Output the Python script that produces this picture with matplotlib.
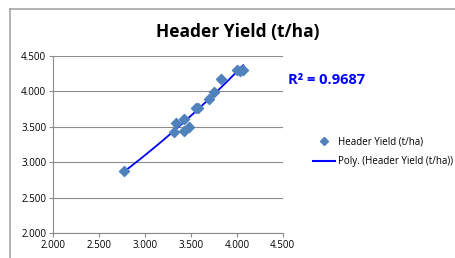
import matplotlib
matplotlib.use('Agg')
import matplotlib.pyplot as plt
import numpy as np
from matplotlib.lines import Line2D

# data
x = [2.77, 3.315, 3.334, 3.424, 3.428, 3.483, 3.555, 3.58, 3.697, 3.751, 3.824, 4.005, 4.03, 4.07]
y = [2.88, 3.42, 3.548, 3.609, 3.444, 3.50, 3.768, 3.76, 3.89, 3.993, 4.168, 4.30, 4.29, 4.30]
r2_text = 'R² = 0.9687'
series_name = 'Header Yield (t/ha)'
xticks = [2.0, 2.5, 3.0, 3.5, 4.0, 4.5]
yticks = [2.0, 2.5, 3.0, 3.5, 4.0, 4.5]

plt.rcParams['font.family'] = ['Open Sans', 'DejaVu Sans']

W, H = 456, 258
fig = plt.figure(figsize=(W / 100, H / 100), dpi=100)
# chart frame (only top and left edges are inside the picture)
fig.lines.append(Line2D([10 / W, 1], [1 - 8.5 / H] * 2, transform=fig.transFigure,
                        color='#a6a6a6', lw=1.2))
fig.lines.append(Line2D([10 / W] * 2, [0, 1 - 8.5 / H], transform=fig.transFigure,
                        color='#a6a6a6', lw=1.2))

ax = fig.add_axes([53.3 / W, 1 - 233.3 / H, (282.7 - 53.3) / W, (233.3 - 55.7) / H])

# 2nd order polynomial trendline
c = np.polyfit(x, y, 2)
xs = np.linspace(min(x), max(x), 100)
ax.plot(xs, np.polyval(c, xs), color='#0000ff', lw=1.3, zorder=2)
ax.scatter(x, y, marker='D', s=26, color='#4f81bd', edgecolors='#4f81bd', zorder=3)

ax.set_xlim(2.0, 4.5)
ax.set_ylim(2.0, 4.5)
ax.set_xticks(xticks)
ax.set_yticks(yticks)
ax.set_xticklabels(['%.3f' % v for v in xticks])
ax.set_yticklabels(['%.3f' % v for v in yticks])
ax.tick_params(labelsize=7, length=3, color='#8c8c8c', pad=2)
ax.grid(axis='y', color='#8c8c8c', lw=0.8)
ax.set_axisbelow(True)
for s in ['top', 'right']:
    ax.spines[s].set_visible(False)
for s in ['left', 'bottom']:
    ax.spines[s].set_color('#8c8c8c')

fig.text(238 / W, 1 - 32 / H, 'Header Yield (t/ha)', ha='center', va='center',
         fontsize=12.5, fontweight='bold')
fig.text(288 / W, 1 - 80 / H, r2_text, ha='left', va='center', fontsize=10.5,
         fontweight='bold', color='#0000ff')

handles = [Line2D([], [], marker='D', ls='none', color='#4f81bd', markersize=4.5),
           Line2D([], [], color='#0000ff', lw=1.5)]
fig.legend(handles, [series_name, 'Poly. (' + series_name + ')'],
           loc='center left', bbox_to_anchor=(308 / W, 1 - 152 / H), frameon=False,
           fontsize=7, handlelength=2.3, handletextpad=0.3, labelspacing=0.9, borderpad=0)

fig.savefig('out.png', dpi=100)
